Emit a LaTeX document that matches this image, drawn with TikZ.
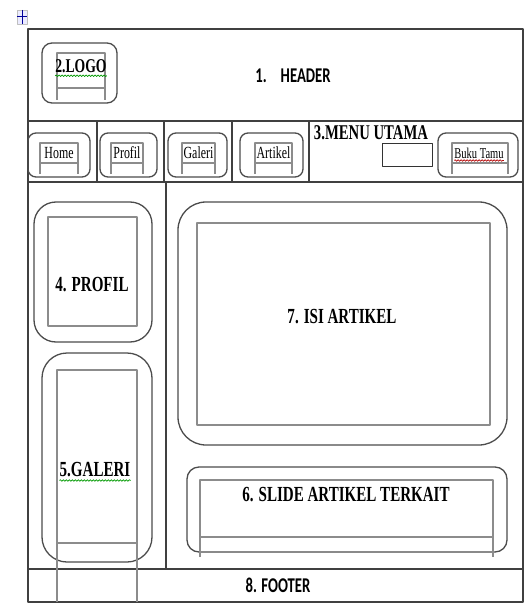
\documentclass[tikz,border=0pt]{standalone}
\usepackage{fontspec}
\setmainfont{Liberation Serif}
\newfontfamily\serifc[FakeStretch=0.7]{Liberation Serif}
\newfontfamily\sansc[FakeStretch=0.7]{Carlito}
\usetikzlibrary{decorations.pathmorphing}

\begin{document}
\begin{tikzpicture}[x=1pt, y=-1pt, line join=round]
  \tikzset{tbl/.style={draw=black!75, line width=1.1pt},
    rbox/.style={draw=black!70, line width=1.3pt, rounded corners=#1, inner sep=0pt},
    rbox/.default=10pt,
    ibox/.style={draw=black!45, line width=1.3pt},
    lbl/.style={font=\serifc\bfseries\fontsize{#1}{#1}\selectfont, inner sep=0pt},
    lbl/.default=21.5,
    mnu/.style={font=\serifc\fontsize{#1}{#1}\selectfont, inner sep=0pt},
    mnu/.default=17,
    hdr/.style={font=\sansc\bfseries\fontsize{#1}{#1}\selectfont, inner sep=0pt},
    hdr/.default=21,
    wavy/.style={decorate, decoration={snake, amplitude=0.8pt, segment length=3pt}, line width=0.7pt}}
  \useasboundingbox (0,0) rectangle (526,607);
  \node[draw=black!25, fill=blue!8, minimum width=10pt, minimum height=14pt, inner sep=0pt] (grip) at (22,17) {};
  \draw[blue!60!black, line width=1pt] (grip.north) -- (grip.south) (grip.west) -- (grip.east);
  \draw[tbl] (28,29) rectangle (523,602);
  \draw[tbl] (28,121) -- (523,121) (28,182) -- (523,182) (28,569) -- (523,569);
  \foreach \x in {97,164,232,309} \draw[tbl] (\x,121) -- (\x,182);
  \draw[tbl] (166,182) -- (166,569);
  \node[rbox] (logo) at (79.5,73) [minimum width=75pt, minimum height=60pt] {};
  \draw[ibox] (57,100) |- (105,53) -- (105,100) (57,88) -- (105,88);
  \node[hdr] (header) at (293,76) {1.\hspace{14pt}HEADER};
  \node[lbl=19.5] (logotxt) at (81,66) {2.LOGO};
  \draw[wavy, green!60!black] ([yshift=-3pt]logotxt.south west) -- ([yshift=-3pt]logotxt.south east);
  \node[rbox=8pt] (home) at (59,155) [minimum width=62pt, minimum height=44pt] {};
  \node[rbox=8pt] (profil) at (128.5,155) [minimum width=57pt, minimum height=44pt] {};
  \node[rbox=8pt] (galeri) at (197.5,155) [minimum width=59pt, minimum height=44pt] {};
  \node[rbox=8pt] (artikel) at (271.5,155) [minimum width=63pt, minimum height=44pt] {};
  \node[rbox=8pt] (bukutamu) at (478,155) [minimum width=80pt, minimum height=44pt] {};
  \foreach \a/\b in {40/78,111/143,182/215,255/292,452/508} {
    \draw[ibox] (\a,174) |- (\b,143) -- (\b,174);
    \draw[ibox] (\a,163) -- (\b,163);
  }
  \node[mnu] (homelbl) at (59,153) {Home};
  \node[mnu] (profillbl) at (127,153) {Profil};
  \node[mnu] (galerilbl) at (198.5,153) {Galeri};
  \node[mnu] (artikellbl) at (273.5,153) {Artikel};
  \node[mnu=15] (bukulbl) at (479,153) {Buku Tamu};
  \draw[wavy, red!70!black] ([yshift=-2pt]bukulbl.south west) -- ([yshift=-2pt]bukulbl.south east);
  \node[lbl=21] (menutxt) at (371,133) {3.MENU UTAMA};
  \node[draw=black!80, line width=1pt, minimum width=50pt, minimum height=23pt, inner sep=0pt] (menubox) at (407,154.5) {};
  \node[rbox=22pt] (profilbox) at (93,272) [minimum width=118pt, minimum height=140pt] {};
  \draw[ibox] (48,217) rectangle (137,326);
  \node[lbl] (profiltxt) at (92,285) {4. PROFIL};
  \node[rbox=25pt] (galeribox) at (97,457.5) [minimum width=110pt, minimum height=209pt] {};
  \draw[ibox] (57,602) |- (137,370) -- (137,602) (57,543) -- (137,543);
  \node[lbl] (galeritxt) at (95,470) {5.GALERI};
  \draw[wavy, green!60!black] ([yshift=-3pt]galeritxt.south west) -- ([yshift=-3pt]galeritxt.south east);
  \node[rbox=28pt] (isibox) at (342.5,323.5) [minimum width=329pt, minimum height=243pt] {};
  \draw[ibox] (197,223) rectangle (490,425);
  \node[lbl] (isitxt) at (342,317) {7. ISI ARTIKEL};
  \node[rbox=12pt] (slidebox) at (347,509.5) [minimum width=320pt, minimum height=85pt] {};
  \draw[ibox] (200,557) |- (493,480) -- (493,557) (200,537) -- (493,537);
  \node[lbl] (slidetxt) at (346,495) {6. SLIDE ARTIKEL TERKAIT};
  \node[hdr=21] (footer) at (278,585) {8. FOOTER};
\end{tikzpicture}
\end{document}
